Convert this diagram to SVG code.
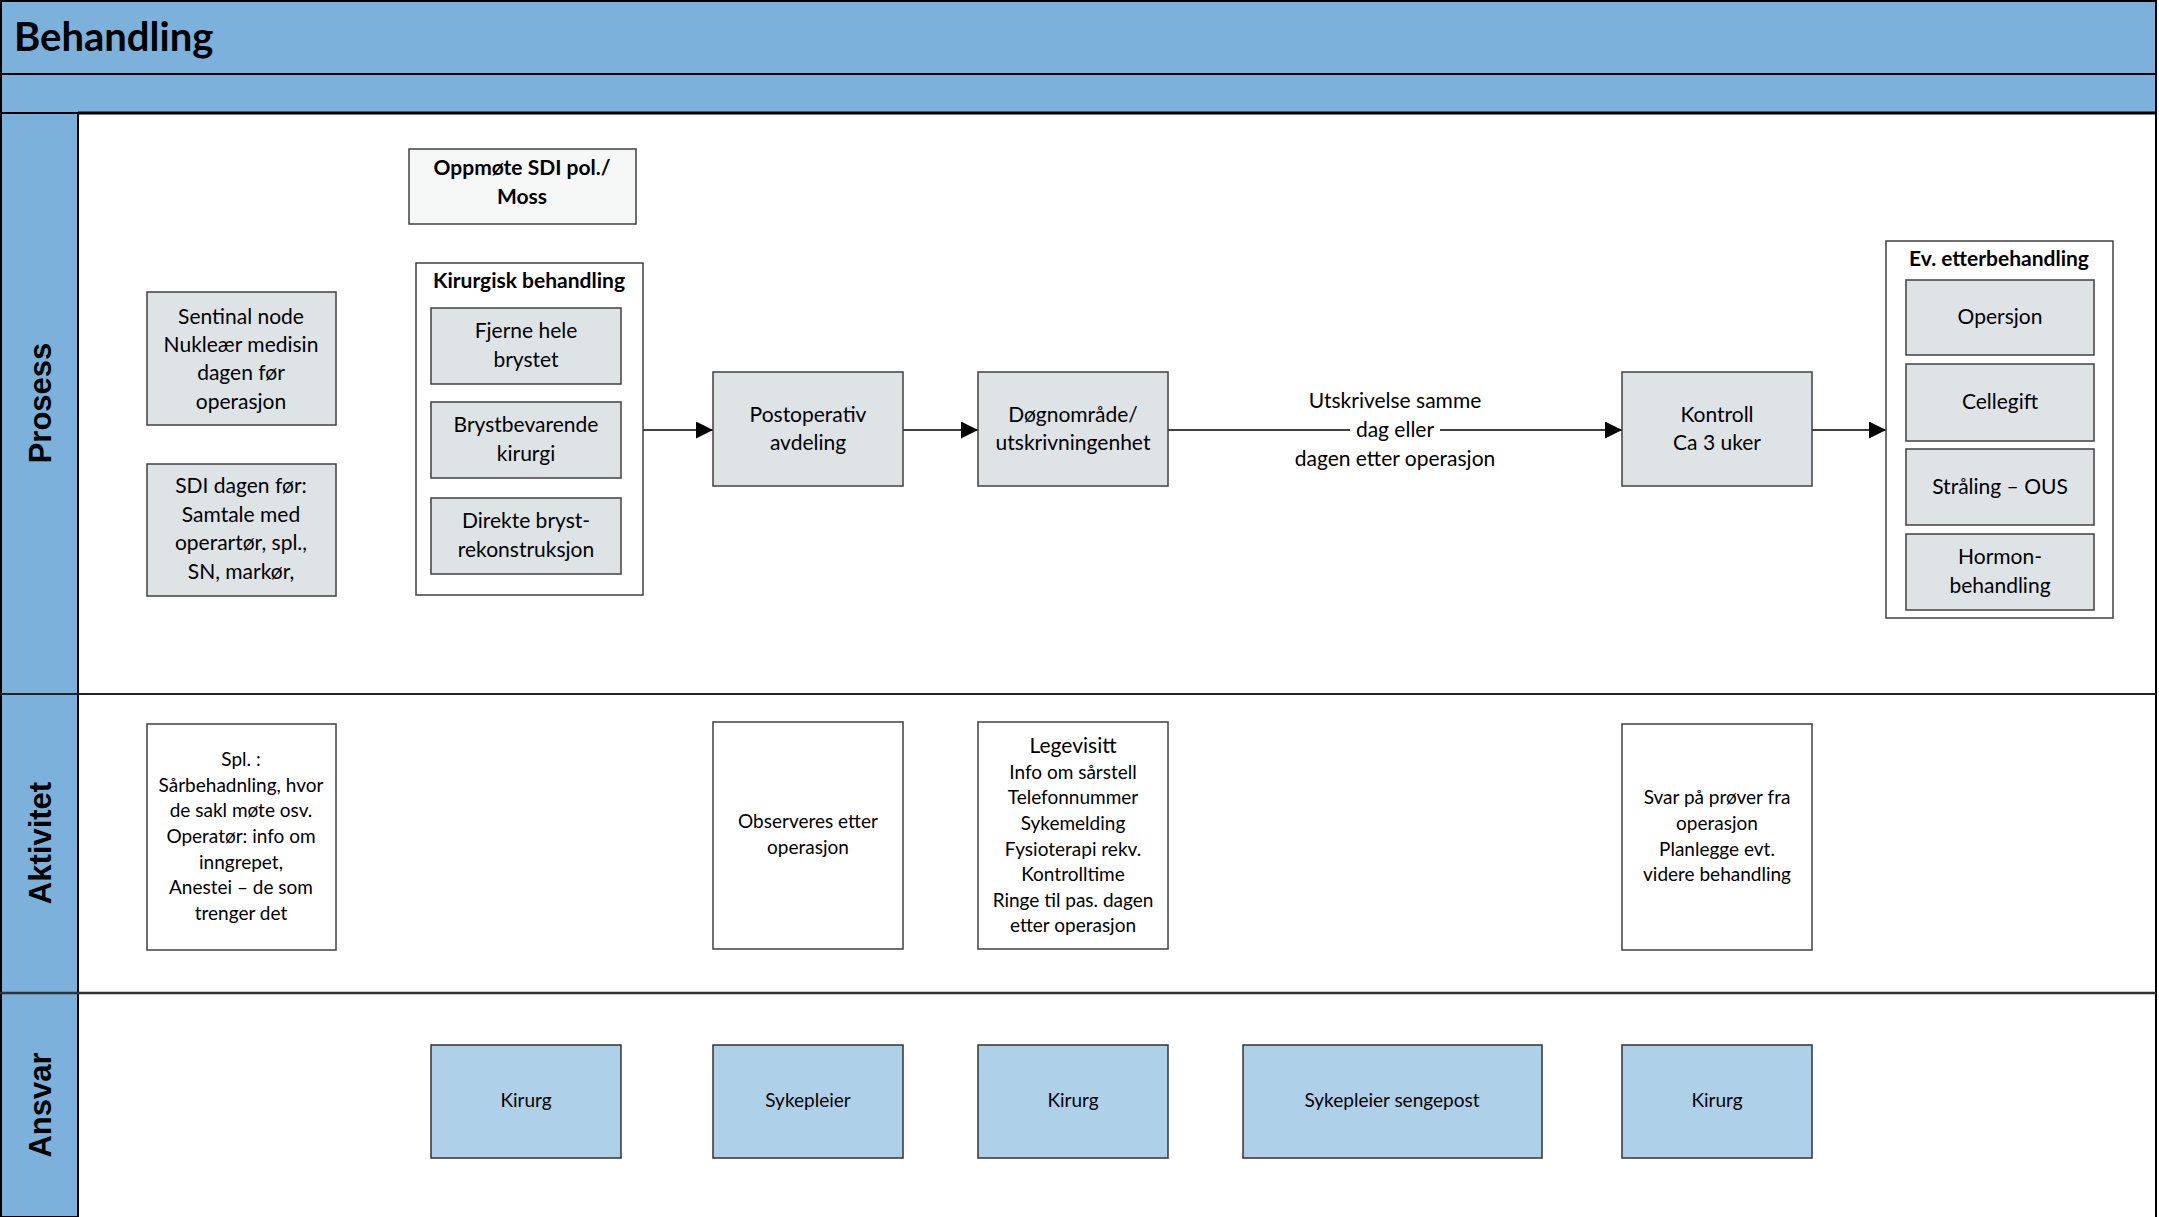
<svg xmlns="http://www.w3.org/2000/svg" width="2159" height="1217" viewBox="0 0 2159 1217">
<style>
.t{font-family:Lato,"Liberation Sans",sans-serif;fill:#000;text-anchor:middle;dominant-baseline:central;transform:translateY(-1.5px)}
.b{font-weight:bold}
.lane{font-family:"Liberation Sans",Arial,sans-serif;font-weight:bold;font-size:31px;text-anchor:middle;dominant-baseline:central}
.gray{fill:#DEE3E6;stroke:#404040;stroke-width:1.5}
.white{fill:#fff;stroke:#404040;stroke-width:1.5}
.pale{fill:#F6F8F8;stroke:#404040;stroke-width:1.5}
.blue{fill:#AFD0E9;stroke:#333;stroke-width:1.5}
.con{stroke:#000;stroke-width:1.5;fill:none}
</style>
<defs>
<marker id="arr" viewBox="0 0 10 10" refX="10" refY="5" markerWidth="19" markerHeight="17" markerUnits="userSpaceOnUse" orient="auto">
<path d="M0,0 L10,5 L0,10 z" fill="#000"/>
</marker>
</defs>
<rect x="0" y="0" width="2159" height="1217" fill="#fff"/>
<g id="frame">
<rect x="1" y="1" width="2155" height="73" fill="#7BB1DB" stroke="#000" stroke-width="2"/>
<rect x="1" y="74" width="2155" height="39" fill="#7BB1DB" stroke="#000" stroke-width="2"/>
<rect x="1" y="113" width="77" height="1104" fill="#7BB1DB" stroke="#000" stroke-width="2"/>
<line x1="78" y1="113" x2="2156" y2="113" stroke="#000" stroke-width="3"/>
<line x1="2156" y1="113" x2="2156" y2="1217" stroke="#000" stroke-width="2"/>
<line x1="0" y1="694" x2="2156" y2="694" stroke="#222" stroke-width="2"/>
<line x1="0" y1="993" x2="2156" y2="993" stroke="#333" stroke-width="2.5"/>
<text class="t b" x="14" y="37" font-size="40" style="text-anchor:start">Behandling</text>
<text class="lane" transform="translate(40,403) rotate(-90)">Prosess</text>
<text class="lane" transform="translate(40,843) rotate(-90)">Aktivitet</text>
<text class="lane" transform="translate(40,1105) rotate(-90)">Ansvar</text>
</g>
<g id="connectors">
<line class="con" x1="643" y1="430" x2="713" y2="430" marker-end="url(#arr)"/>
<line class="con" x1="903" y1="430" x2="978" y2="430" marker-end="url(#arr)"/>
<line class="con" x1="1168" y1="430" x2="1622" y2="430" marker-end="url(#arr)"/>
<line class="con" x1="1812" y1="430" x2="1886" y2="430" marker-end="url(#arr)"/>
<rect x="1350" y="418" width="90" height="24" fill="#fff"/>
<text class="t" x="1395" y="401" font-size="21">Utskrivelse samme</text>
<text class="t" x="1395" y="430" font-size="21">dag eller</text>
<text class="t" x="1395" y="459" font-size="21">dagen etter operasjon</text>
</g>
<g id="oppmote">
<rect class="pale" x="409" y="149" width="227" height="75"/>
<text class="t b" x="522" y="168" font-size="21">Oppmøte SDI pol./</text>
<text class="t b" x="522" y="197" font-size="21">Moss</text>
</g>
<g id="sentinal">
<rect class="gray" x="147" y="292" width="189" height="133"/>
<text class="t" x="241" y="317" font-size="21">Sentinal node</text>
<text class="t" x="241" y="345" font-size="21">Nukleær medisin</text>
<text class="t" x="241" y="373" font-size="21">dagen før</text>
<text class="t" x="241" y="402" font-size="21">operasjon</text>
</g>
<g id="sdi">
<rect class="gray" x="147" y="464" width="189" height="132"/>
<text class="t" x="241" y="486" font-size="21">SDI dagen før:</text>
<text class="t" x="241" y="515" font-size="21">Samtale med</text>
<text class="t" x="241" y="543" font-size="21">operartør, spl.,</text>
<text class="t" x="241" y="572" font-size="21">SN, markør,</text>
</g>
<g id="kirurgisk">
<rect class="white" x="416" y="263" width="227" height="332"/>
<text class="t b" x="529" y="281" font-size="21">Kirurgisk behandling</text>
</g>
<g id="fjerne">
<rect class="gray" x="431" y="308" width="190" height="76"/>
<text class="t" x="526" y="331" font-size="21">Fjerne hele</text>
<text class="t" x="526" y="360" font-size="21">brystet</text>
</g>
<g id="brystbevarende">
<rect class="gray" x="431" y="402" width="190" height="76"/>
<text class="t" x="526" y="425" font-size="21">Brystbevarende</text>
<text class="t" x="526" y="454" font-size="21">kirurgi</text>
</g>
<g id="direkte">
<rect class="gray" x="431" y="498" width="190" height="76"/>
<text class="t" x="526" y="521" font-size="21">Direkte bryst-</text>
<text class="t" x="526" y="550" font-size="21">rekonstruksjon</text>
</g>
<g id="postoperativ">
<rect class="gray" x="713" y="372" width="190" height="114"/>
<text class="t" x="808" y="415" font-size="21">Postoperativ</text>
<text class="t" x="808" y="443" font-size="21">avdeling</text>
</g>
<g id="dognomrade">
<rect class="gray" x="978" y="372" width="190" height="114"/>
<text class="t" x="1073" y="415" font-size="21">Døgnområde/</text>
<text class="t" x="1073" y="443" font-size="21">utskrivningenhet</text>
</g>
<g id="kontroll">
<rect class="gray" x="1622" y="372" width="190" height="114"/>
<text class="t" x="1717" y="415" font-size="21">Kontroll</text>
<text class="t" x="1717" y="443" font-size="21">Ca 3 uker</text>
</g>
<g id="etterbehandling">
<rect class="white" x="1886" y="241" width="227" height="377"/>
<text class="t b" x="1999" y="259" font-size="21">Ev. etterbehandling</text>
</g>
<g id="opersjon">
<rect class="gray" x="1906" y="280" width="188" height="75"/>
<text class="t" x="2000" y="317" font-size="21">Opersjon</text>
</g>
<g id="cellegift">
<rect class="gray" x="1906" y="364" width="188" height="77"/>
<text class="t" x="2000" y="402" font-size="21">Cellegift</text>
</g>
<g id="straling">
<rect class="gray" x="1906" y="449" width="188" height="76"/>
<text class="t" x="2000" y="487" font-size="21">Stråling – OUS</text>
</g>
<g id="hormon">
<rect class="gray" x="1906" y="534" width="188" height="76"/>
<text class="t" x="2000" y="557" font-size="21">Hormon-</text>
<text class="t" x="2000" y="586" font-size="21">behandling</text>
</g>
<g id="spl">
<rect class="white" x="147" y="724" width="189" height="226"/>
<text class="t" x="241" y="760" font-size="19">Spl. :</text>
<text class="t" x="241" y="786" font-size="19">Sårbehadnling, hvor</text>
<text class="t" x="241" y="811" font-size="19">de sakl møte osv.</text>
<text class="t" x="241" y="837" font-size="19">Operatør: info om</text>
<text class="t" x="241" y="863" font-size="19">inngrepet,</text>
<text class="t" x="241" y="888" font-size="19">Anestei – de som</text>
<text class="t" x="241" y="914" font-size="19">trenger det</text>
</g>
<g id="observeres">
<rect class="white" x="713" y="722" width="190" height="227"/>
<text class="t" x="808" y="822" font-size="19">Observeres etter</text>
<text class="t" x="808" y="848" font-size="19">operasjon</text>
</g>
<g id="legevisitt">
<rect class="white" x="978" y="722" width="190" height="227"/>
<text class="t" x="1073" y="746" font-size="21">Legevisitt</text>
<text class="t" x="1073" y="773" font-size="19">Info om sårstell</text>
<text class="t" x="1073" y="798" font-size="19">Telefonnummer</text>
<text class="t" x="1073" y="824" font-size="19">Sykemelding</text>
<text class="t" x="1073" y="850" font-size="19">Fysioterapi rekv.</text>
<text class="t" x="1073" y="875" font-size="19">Kontrolltime</text>
<text class="t" x="1073" y="901" font-size="19">Ringe til pas. dagen</text>
<text class="t" x="1073" y="926" font-size="19">etter operasjon</text>
</g>
<g id="svar">
<rect class="white" x="1622" y="724" width="190" height="226"/>
<text class="t" x="1717" y="798" font-size="19">Svar på prøver fra</text>
<text class="t" x="1717" y="824" font-size="19">operasjon</text>
<text class="t" x="1717" y="850" font-size="19">Planlegge evt.</text>
<text class="t" x="1717" y="875" font-size="19">videre behandling</text>
</g>
<g id="ansvar-kirurg1">
<rect class="blue" x="431" y="1045" width="190" height="113"/>
<text class="t" x="526" y="1101" font-size="19">Kirurg</text>
</g>
<g id="ansvar-sykepleier">
<rect class="blue" x="713" y="1045" width="190" height="113"/>
<text class="t" x="808" y="1101" font-size="19">Sykepleier</text>
</g>
<g id="ansvar-kirurg2">
<rect class="blue" x="978" y="1045" width="190" height="113"/>
<text class="t" x="1073" y="1101" font-size="19">Kirurg</text>
</g>
<g id="ansvar-sengepost">
<rect class="blue" x="1243" y="1045" width="299" height="113"/>
<text class="t" x="1392" y="1101" font-size="19">Sykepleier sengepost</text>
</g>
<g id="ansvar-kirurg3">
<rect class="blue" x="1622" y="1045" width="190" height="113"/>
<text class="t" x="1717" y="1101" font-size="19">Kirurg</text>
</g>
</svg>
